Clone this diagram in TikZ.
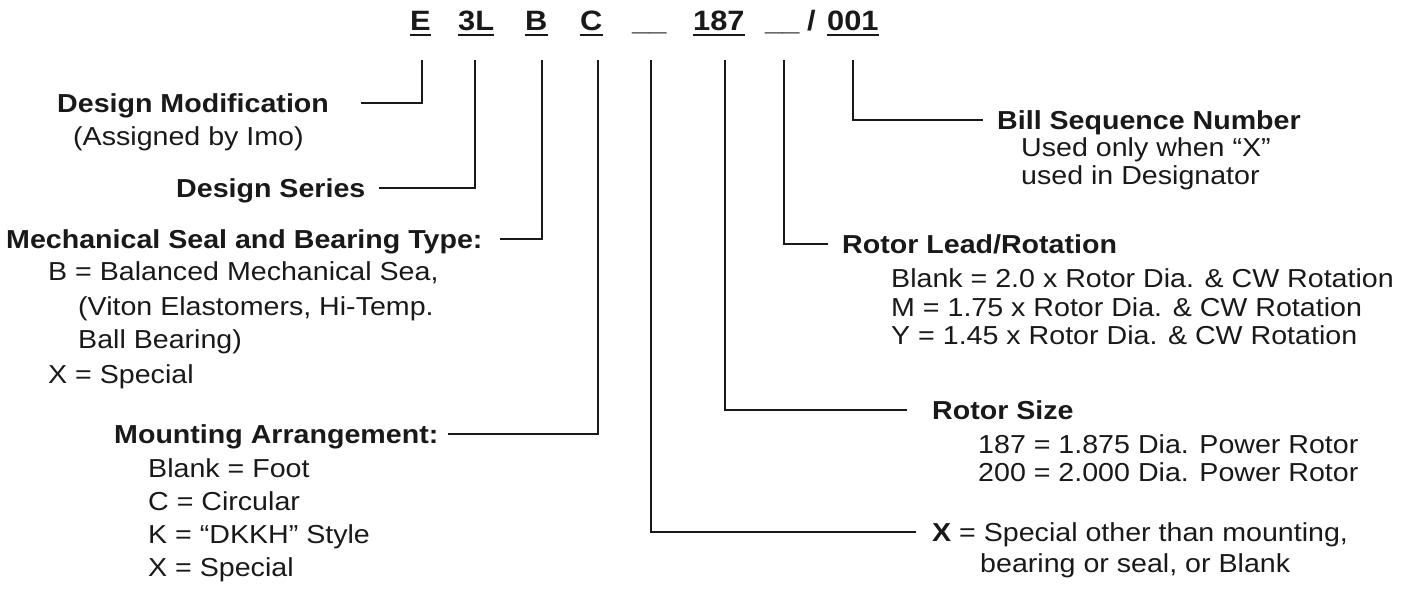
\documentclass[tikz,border=0pt]{standalone}
\usepackage{fontspec}
\setmainfont{Liberation Sans}[FakeStretch=1.1]
\begin{document}
\begin{tikzpicture}[x=1pt,y=-1pt,
  lead/.style={line width=2pt, line join=miter, line cap=butt, draw=black!90},
  uline/.style={line width=2pt, draw=black!90},
  codetxt/.style={font=\fontsize{28}{32}\selectfont\bfseries, inner sep=0pt, anchor=base west, text=black!90},
  headtxt/.style={font=\fontsize{26}{30}\selectfont\bfseries, inner sep=0pt, anchor=base west,
                  text height=18.6pt, text depth=0pt, text=black!90},
  bodytxt/.style={font=\fontsize{26}{30}\selectfont, inner sep=0pt, anchor=base west, text=black!90}]

\useasboundingbox (0,0) rectangle (1421,592);

% model designator
\node[codetxt] (cE)   at (410,30.5) {E};
\node[codetxt] (c3L)  at (458,30.5) {3L};
\node[codetxt] (cB)   at (525,30.5) {B};
\node[codetxt] (cC)   at (580,30.5) {C};
\node[codetxt] (cX)   at (632,30.5) {\_\_};
\node[codetxt] (c187) at (693,30.5) {187};
\node[codetxt] (cM)   at (765,30.5) {\_\_};
\node[codetxt] (csl)  at (807,30.5) {/};
\node[codetxt] (c001) at (827,30.5) {001};
\foreach \n in {cE,c3L,cB,cC,c187,c001}
  \draw[uline] ([yshift=-4.8pt]\n.base west) -- ([yshift=-4.8pt]\n.base east);

% tops of the leader lines
\coordinate (tE)   at (422,60);
\coordinate (t3L)  at (475,60);
\coordinate (tB)   at (542,60);
\coordinate (tC)   at (598,60);
\coordinate (tX)   at (651,60);
\coordinate (t187) at (725,60);
\coordinate (tM)   at (784,60);
\coordinate (t001) at (853,60);

% left-hand descriptions
\node[headtxt] (dm) at (57,112) {Design Modification};
\node[bodytxt] (dm1) at (73,145) {(Assigned by Imo)};

\node[headtxt] (ds) at (176,197) {Design Series};

\node[headtxt] (ms) at (6,248) {Mechanical Seal and Bearing Type:};
\node[bodytxt] (ms1) at (48,280) {B = Balanced Mechanical Sea,};
\node[bodytxt] (ms2) at (78,315) {(Viton Elastomers, Hi-Temp.};
\node[bodytxt] (ms3) at (78,348) {Ball Bearing)};
\node[bodytxt] (ms4) at (48,383) {X = Special};

\node[headtxt] (ma) at (114,443) {Mounting Arrangement:};
\node[bodytxt] (ma1) at (148,477) {Blank = Foot};
\node[bodytxt] (ma2) at (148,510) {C = Circular};
\node[bodytxt] (ma3) at (148,543) {K = “DKKH” Style};
\node[bodytxt] (ma4) at (148,576) {X = Special};

% right-hand descriptions
\node[headtxt] (bs) at (997,129) {Bill Sequence Number};
\node[bodytxt] (bs1) at (1021,156) {Used only when “X”};
\node[bodytxt] (bs2) at (1021,184) {used in Designator};

\node[headtxt] (rl) at (842,253) {Rotor Lead/Rotation};
\node[bodytxt] (rl1) at (891,287) {Blank = 2.0 x Rotor Dia. \& CW Rotation};
\node[bodytxt] (rl2) at (891,316) {M = 1.75 x Rotor Dia. \& CW Rotation};
\node[bodytxt] (rl3) at (891,344) {Y = 1.45 x Rotor Dia. \& CW Rotation};

\node[headtxt] (rs) at (932,419) {Rotor Size};
\node[bodytxt] (rs1) at (978,453) {187 = 1.875 Dia. Power Rotor};
\node[bodytxt] (rs2) at (978,481) {200 = 2.000 Dia. Power Rotor};

\node[headtxt, font=\fontsize{26}{30}\selectfont] (sp) at (932,541) {\textbf{X} = Special other than mounting,};
\node[bodytxt] (sp1) at (980,572) {bearing or seal, or Blank};

% leader lines
\draw[lead] (tE)   |- ([xshift=32pt]dm.east);
\draw[lead] (t3L)  |- ([xshift=13pt]ds.east);
\draw[lead] (tB)   |- ([xshift=17pt]ms.east);
\draw[lead] (tC)   |- ([xshift=9pt]ma.east);
\draw[lead] (tX)   |- ([xshift=-16pt]sp.west);
\draw[lead] (t187) |- ([xshift=-25pt]rs.west);
\draw[lead] (tM)   |- ([xshift=-14pt]rl.west);
\draw[lead] (t001) |- ([xshift=-14pt]bs.west);
\end{tikzpicture}
\end{document}
